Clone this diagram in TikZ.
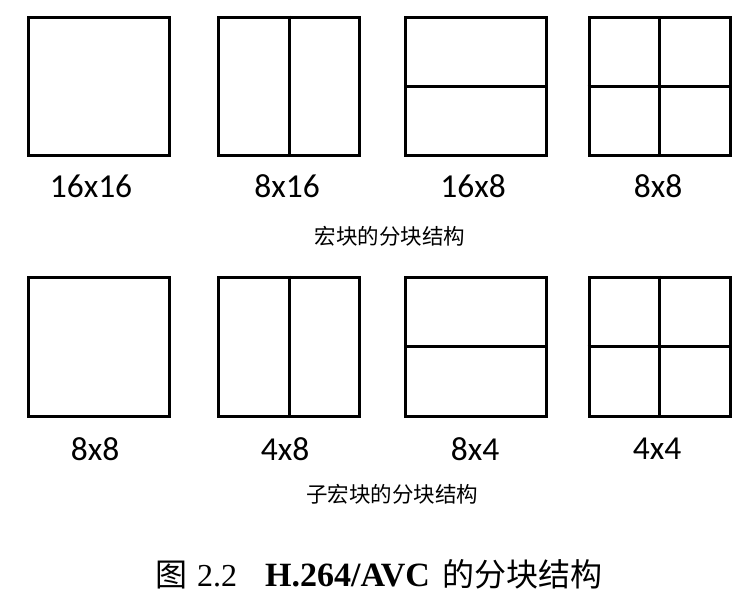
\documentclass[tikz,border=0pt]{standalone}
\usepackage{fontspec}
\setmainfont{Liberation Serif}
\newfontfamily\lblfont{Carlito}
\newfontfamily\cjk{Noto Sans CJK SC}
\begin{document}
\begin{tikzpicture}[x=1pt,y=-1pt,
  blk/.style={draw,line width=3pt,rectangle,inner sep=0pt,minimum width=141pt,minimum height=138pt},
  div/.style={line width=3pt},
  lbl/.style={font=\lblfont\fontsize{33.5}{33.5}\selectfont,inner sep=0pt},
  sub/.style={font=\cjk\fontsize{21.5}{21.5}\selectfont,inner sep=0pt},
  figcap/.style={font=\fontsize{32}{32}\selectfont,inner sep=0pt}]
\useasboundingbox (0,0) rectangle (752,606);
% row 1
\node[blk] (a1) at (99,86) {};
\node[blk] (a2) at (289,86) {};
\node[blk] (a3) at (476,86.5) {};
\node[blk] (a4) at (659.5,86.5) {};
\draw[div] (a2.north) -- (a2.south);
\draw[div] (a3.west) -- (a3.east);
\draw[div] (a4.north) -- (a4.south);
\draw[div] (a4.west) -- (a4.east);
\node[lbl] (la1) at (91,186) {16x16};
\node[lbl] (la2) at (287,186) {8x16};
\node[lbl] (la3) at (473,186) {16x8};
\node[lbl] (la4) at (658,186) {8x8};
\node[sub] (ca) at (390,236) {宏块的分块结构};
% row 2
\node[blk,minimum height=139pt] (b1) at (99,346.5) {};
\node[blk,minimum height=139pt] (b2) at (289,346.5) {};
\node[blk,minimum height=139pt] (b3) at (476,346.5) {};
\node[blk,minimum height=139pt] (b4) at (659.5,346.5) {};
\draw[div] (b2.north) -- (b2.south);
\draw[div] (b3.west) -- (b3.east);
\draw[div] (b4.north) -- (b4.south);
\draw[div] (b4.west) -- (b4.east);
\node[lbl] (lb1) at (95,449) {8x8};
\node[lbl] (lb2) at (285,449) {4x8};
\node[lbl] (lb3) at (475,449) {8x4};
\node[lbl] (lb4) at (657,449) {4x4};
\node[sub] (cb) at (392,494) {子宏块的分块结构};
% caption
\node[figcap,anchor=west] (fig) at (155,574) {{\cjk 图}\hspace{10pt}2.2\hspace{28pt}{\fontsize{34}{34}\selectfont\bfseries H.264/AVC}\hspace{13pt}{\cjk 的分块结构}};
\end{tikzpicture}
\end{document}
